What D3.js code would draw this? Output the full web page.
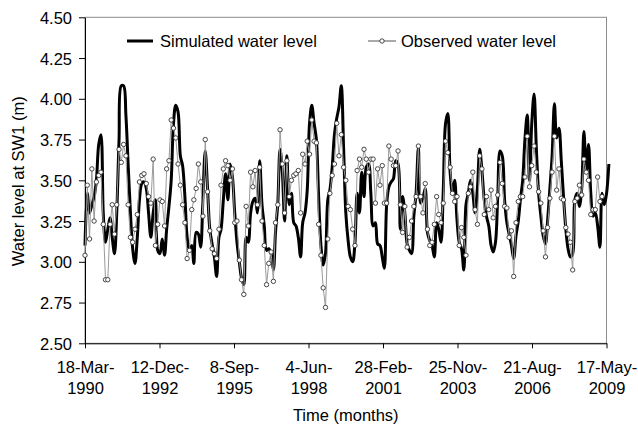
<!DOCTYPE html>
<html>
<head>
<meta charset="utf-8">
<script src="https://cdn.jsdelivr.net/npm/d3@7/dist/d3.min.js"></script>
<style>
  body { margin: 0; background: #fff; }
  svg text { font-family: Arial, "Liberation Sans", sans-serif; font-size: 16.5px; fill: #000; }
</style>
</head>
<body>
<svg id="chart"></svg>
<script>
var width = 638;
var height = 425;

// monthly series, first value is March 1990
var firstMonth = new Date(1990, 2, 18);

var simulated = [
  3.10, 3.42, 3.30, 3.35, 3.40, 3.50, 3.72, 3.78, 3.30, 3.12,
  3.20, 3.27, 3.15, 3.05, 3.30, 3.75, 4.08, 4.08, 3.90, 3.60,
  3.30, 3.08, 2.99, 3.15, 3.38, 3.48, 3.49, 3.45, 3.30, 3.15,
  3.30, 3.38, 3.07, 3.05, 3.14, 3.04, 3.20, 3.34, 3.50, 3.85,
  3.96, 3.92, 3.65, 3.59, 3.40, 3.15, 3.07, 3.10, 2.99, 3.18,
  3.17, 3.09, 3.40, 3.68, 3.45, 3.20, 3.11, 3.03, 2.91, 3.15,
  3.20, 3.38, 3.54, 3.38, 3.60, 3.52, 3.30, 3.12, 3.00, 2.90,
  2.86, 3.15, 3.12, 3.30, 3.37, 3.39, 3.30, 3.62, 3.35, 3.22,
  3.07, 3.08, 3.05, 2.95, 3.18, 3.36, 3.69, 3.55, 3.25, 3.65,
  3.35, 3.42, 3.24, 3.22, 3.15, 3.03, 3.24, 3.30, 3.44, 3.85,
  3.96, 3.85, 3.75, 3.40, 3.10, 2.98, 3.05, 3.38, 3.44, 3.58,
  3.78, 3.88, 3.95, 4.08, 3.70, 3.30, 3.13, 3.03, 3.00, 3.12,
  3.42, 3.30, 3.55, 3.40, 3.58, 3.60, 3.42, 3.22, 3.24, 3.11,
  3.10, 3.03, 2.96, 3.35, 3.46, 3.49, 3.51, 3.62, 3.60, 3.20,
  3.40, 3.30, 3.11, 3.07, 3.05, 3.28, 3.42, 3.70, 3.36, 3.39,
  3.45, 3.18, 3.13, 3.10, 3.03, 3.24, 3.20, 3.12, 3.44, 3.85,
  3.91, 3.55, 3.42, 3.50, 3.26, 3.12, 3.08, 2.95, 3.35, 3.42,
  3.50, 3.42, 3.30, 3.45, 3.69, 3.56, 3.38, 3.28, 3.22, 3.10,
  3.06, 3.12, 3.40, 3.68, 3.65, 3.38, 3.24, 3.17, 3.10, 3.02,
  3.16, 3.25, 3.38, 3.50, 3.75, 3.90, 3.50, 3.85, 4.03, 3.70,
  3.42, 3.28, 3.16, 3.11, 3.25, 3.45, 3.65, 3.97, 3.76, 3.82,
  3.62, 3.40, 3.20, 3.08, 3.03, 3.05, 3.38, 3.42, 3.34, 3.45,
  3.80, 3.55, 3.72, 3.42, 3.28, 3.30, 3.22, 3.09, 3.42, 3.35,
  3.42, 3.60
];

var observed = [
  3.04, 3.47, 3.14, 3.57, 3.25, 3.49, 3.53, 3.55, 3.23, 2.89,
  2.89, 3.23, 3.35, 3.17, 3.35, 3.69, 3.61, 3.72, 3.65, 3.35,
  3.15, 3.12, 3.20, 3.29, 3.49, 3.53, 3.54, 3.48, 3.40, 3.36,
  3.63, 3.10, 3.23, 3.38, 3.37, 3.22, 3.57, 3.62, 3.87, 3.82,
  3.76, 3.60, 3.47, 3.35, 3.24, 3.02, 3.07, 3.32, 3.38, 3.45,
  3.60, 3.49, 3.28, 3.75, 3.43, 3.19, 3.08, 3.05, 3.02, 3.20,
  3.47, 3.57, 3.62, 3.59, 3.50, 3.57, 3.24, 3.25, 3.01, 2.89,
  2.80, 3.34, 3.22, 3.55, 3.46, 3.56, 3.35, 3.58, 3.25, 3.10,
  2.86, 2.99, 3.06, 2.88, 3.24, 3.35, 3.81, 3.60, 3.30, 3.62,
  3.40, 3.50, 3.53, 3.54, 3.56, 3.30, 3.66, 3.60, 3.74, 3.66,
  3.87, 3.74, 3.73, 3.23, 3.04, 2.84, 2.72, 3.14, 3.42, 3.53,
  3.60, 3.85, 3.65, 3.78, 3.58, 3.50, 3.34, 3.32, 3.20, 3.10,
  3.56, 3.63, 3.58, 3.69, 3.63, 3.55, 3.63, 3.63, 3.36, 3.57,
  3.47, 3.59, 3.36, 3.36, 3.71, 3.63, 3.59, 3.59, 3.68, 3.35,
  3.18, 3.34, 3.09, 3.15, 3.25, 3.34, 3.40, 3.71, 3.40, 3.30,
  3.48, 3.20, 3.10, 3.12, 3.23, 3.40, 3.29, 3.24, 3.36, 3.74,
  3.67, 3.58, 3.42, 3.37, 3.40, 3.10, 3.21, 3.15, 3.04, 3.42,
  3.46, 3.55, 3.32, 3.23, 3.65, 3.57, 3.29, 3.40, 3.32, 3.44,
  3.27, 3.34, 3.41, 3.61, 3.48, 3.34, 3.33, 3.15, 3.19, 2.91,
  3.24, 3.37, 3.40, 3.40, 3.52, 3.77, 3.46, 3.59, 3.71, 3.55,
  3.43, 3.36, 3.19, 3.03, 3.21, 3.39, 3.55, 3.77, 3.44, 3.57,
  3.39, 3.38, 3.21, 3.17, 3.12, 2.95, 3.37, 3.39, 3.47, 3.41,
  3.63, 3.55, 3.50, 3.29, 3.32, 3.32, 3.52, 3.37, 3.40
];

var xTickLabels = ["18-Mar-1990", "12-Dec-1992", "8-Sep-1995", "4-Jun-1998",
                   "28-Feb-2001", "25-Nov-2003", "21-Aug-2006", "17-May-2009"];
var yTicks = [2.50, 2.75, 3.00, 3.25, 3.50, 3.75, 4.00, 4.25, 4.50];
var seriesNames = ["Simulated water level", "Observed water level"];

var margin = {left: 85, right: 31.5, top: 17.3, bottom: 81.7};
var parseTick = d3.timeParse("%d-%b-%Y");
var tickDates = xTickLabels.map(parseTick);

var svg = d3.select("#chart")
    .attr("width", width)
    .attr("height", height);

var x = d3.scaleTime()
    .domain([tickDates[0], tickDates[tickDates.length - 1]])
    .range([margin.left, width - margin.right]);

var y = d3.scaleLinear()
    .domain([2.5, 4.5])
    .range([height - margin.bottom, margin.top]);

function monthDate(i) { return d3.timeMonth.offset(firstMonth, i); }

// plot area border (grey top / right)
svg.append("rect")
    .attr("x", x.range()[0])
    .attr("y", y.range()[1])
    .attr("width", x.range()[1] - x.range()[0])
    .attr("height", y.range()[0] - y.range()[1])
    .attr("fill", "none")
    .attr("stroke", "#8c8c8c")
    .attr("stroke-width", 1);

// y axis
var yAxis = svg.append("g")
    .attr("transform", "translate(" + margin.left + ",0)")
    .call(d3.axisLeft(y).tickValues(yTicks).tickFormat(d3.format(".2f")).tickSize(6).tickSizeOuter(0).tickPadding(7));
yAxis.selectAll("path, line").attr("stroke", "#000");
yAxis.selectAll("text")
    .attr("font-size", null).attr("font-family", null)
    .attr("dy", "0.36em");
yAxis.attr("font-size", null).attr("font-family", null);

// x axis
var xAxis = svg.append("g")
    .attr("transform", "translate(0," + y.range()[0] + ")")
    .call(d3.axisBottom(x).tickValues(tickDates).tickSize(5).tickSizeOuter(0).tickFormat(""));
xAxis.attr("font-size", null).attr("font-family", null);
xAxis.selectAll("path, line").attr("stroke", "#000");
xAxis.selectAll(".tick").each(function(d, i) {
  var lbl = xTickLabels[i];
  var cut = lbl.lastIndexOf("-") + 1;
  var t = d3.select(this).select("text")
      .attr("y", 0).attr("dy", null)
      .attr("text-anchor", "middle");
  t.append("tspan").attr("x", 0).attr("y", 30).text(lbl.slice(0, cut));
  t.append("tspan").attr("x", 0).attr("y", 51).text(lbl.slice(cut));
});

// axis titles
svg.append("text")
    .attr("x", (x.range()[0] + x.range()[1]) / 2)
    .attr("y", 421)
    .attr("text-anchor", "middle")
    .text("Time (months)");

svg.append("text")
    .attr("transform", "translate(24," + ((y.range()[0] + y.range()[1]) / 2 + 1) + ") rotate(-90)")
    .attr("text-anchor", "middle")
    .text("Water level at SW1 (m)");

// simulated series: thick smooth black line
var simLine = d3.line()
    .x(function(d, i) { return x(monthDate(i)); })
    .y(function(d) { return y(d); })
    .curve(d3.curveCatmullRom.alpha(0.5));

svg.append("path")
    .datum(simulated)
    .attr("d", simLine)
    .attr("fill", "none")
    .attr("stroke", "#000")
    .attr("stroke-width", 3)
    .attr("stroke-linejoin", "round");

// observed series: thin grey line + open circles
var obsLine = d3.line()
    .x(function(d, i) { return x(monthDate(i)); })
    .y(function(d) { return y(d); });

svg.append("path")
    .datum(observed)
    .attr("d", obsLine)
    .attr("fill", "none")
    .attr("stroke", "#9a9a9a")
    .attr("stroke-width", 1);

svg.append("g").selectAll("circle")
    .data(observed)
    .enter().append("circle")
      .attr("cx", function(d, i) { return x(monthDate(i)); })
      .attr("cy", function(d) { return y(d); })
      .attr("r", 2.2)
      .attr("fill", "#fff")
      .attr("stroke", "#333")
      .attr("stroke-width", 0.9);

// legend
var legend = svg.append("g");
legend.append("line")
    .attr("x1", 127).attr("x2", 153).attr("y1", 41).attr("y2", 41)
    .attr("stroke", "#000").attr("stroke-width", 3);
legend.append("text").attr("x", 160).attr("y", 47).text(seriesNames[0]);

legend.append("line")
    .attr("x1", 368).attr("x2", 396).attr("y1", 41).attr("y2", 41)
    .attr("stroke", "#555").attr("stroke-width", 1);
legend.append("circle")
    .attr("cx", 382).attr("cy", 41).attr("r", 2.2)
    .attr("fill", "#fff").attr("stroke", "#333").attr("stroke-width", 0.9);
legend.append("text").attr("x", 401).attr("y", 47).text(seriesNames[1]);
</script>
</body>
</html>
